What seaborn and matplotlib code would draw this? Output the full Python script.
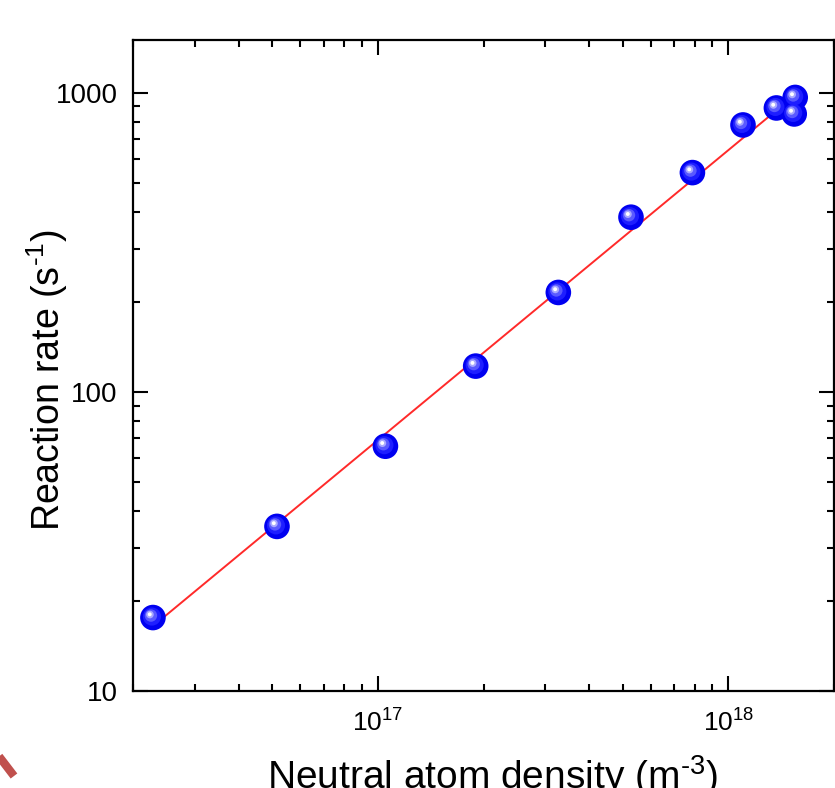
import numpy as np
import pandas as pd
import matplotlib
matplotlib.use("Agg")
import matplotlib.pyplot as plt
import matplotlib.transforms as mtransforms
from matplotlib.lines import Line2D
import seaborn as sns

density = [2.28e16, 5.15e16, 1.05e17, 1.90e17, 3.27e17, 5.27e17, 7.89e17,
           1.10e18, 1.37e18, 1.55e18, 1.54e18]
rate = [17.6, 35.5, 65.8, 121.9, 214.9, 383.5, 540.6, 780.0, 889.0, 964.0, 849.0]

x_ticks = [1e17, 1e18]
x_ticklabels = ["10$^{17}$", "10$^{18}$"]
y_ticks = [10, 100, 1000]
y_ticklabels = ["10", "100", "1000"]

df = pd.DataFrame({"density": density, "rate": rate})

# Fit im log-log Raum
k, d = np.polyfit(np.log10(df["density"]), np.log10(df["rate"]), 1)
fit = pd.DataFrame({"density": [df["density"].min(), df["density"].max()]})
fit["rate"] = 10 ** (k * np.log10(fit["density"]) + d)

#%% Grafik
sns.set_style("ticks")
plt.rcParams["font.family"] = ["Liberation Sans", "DejaVu Sans"]
plt.rcParams["mathtext.fontset"] = "custom"
plt.rcParams["mathtext.rm"] = "Liberation Sans"
plt.rcParams["mathtext.it"] = "Liberation Sans:italic"
for key in ["text.color", "axes.labelcolor", "xtick.color", "ytick.color", "axes.edgecolor"]:
    plt.rcParams[key] = "black"

fig = plt.figure(figsize=(8.35, 7.88), dpi=100)
ax = fig.add_axes([133 / 835, 1 - 691 / 788, 701 / 835, 651 / 788])

sns.lineplot(data=fit, x="density", y="rate", color="#ff2a2a", lw=1.4, ax=ax, zorder=2)

# Kugel-Marker: mehrere Schichten mit Versatz fuer den Glanzpunkt
layers = [(340, "#0000f0", 0.0), (170, "#1e1eff", -1.0), (80, "#5a5aff", -2.0),
          (30, "#a8a8ff", -3.0), (8, "#ffffff", -3.2)]
for size, col, off in layers:
    sns.scatterplot(data=df, x="density", y="rate", s=size, color=col,
                    edgecolor="none", linewidth=0, ax=ax, zorder=3, legend=False)
    coll = ax.collections[-1]
    shift = mtransforms.ScaledTranslation(off / 100, -off / 100, fig.dpi_scale_trans)
    coll.set_offset_transform(ax.transData + shift)

ax.set_xscale("log")
ax.set_yscale("log")
ax.set_xlim(2e16, 2e18)
ax.set_ylim(10, 1500)
ax.set_xticks(x_ticks)
ax.set_xticklabels(x_ticklabels, fontsize=19)
ax.set_yticks(y_ticks)
ax.set_yticklabels(y_ticklabels, fontsize=20)
ax.yaxis.set_minor_formatter(matplotlib.ticker.NullFormatter())
ax.xaxis.set_minor_formatter(matplotlib.ticker.NullFormatter())

ax.tick_params(which="both", direction="in", top=True, right=True, width=1.5, color="black")
ax.tick_params(which="major", length=11)
ax.tick_params(which="minor", length=5)
ax.tick_params(axis="y", pad=11)
ax.tick_params(axis="x", pad=13)
for sp in ax.spines.values():
    sp.set_linewidth(1.6)
    sp.set_color("black")

ax.set_xlabel(r"Neutral atom density (m$^{\text{-}3}$)", fontsize=28)
ax.set_ylabel(r"Reaction rate (s$^{\text{-}1}$)", fontsize=27)
ax.xaxis.set_label_coords(0.512, -0.096)
ax.yaxis.set_label_coords(-0.090, 0.478)

# roter Strich unten links (Bildrest)
fig.add_artist(Line2D([-12 / 835, 14 / 835], [1 - 742 / 788, 1 - 776 / 788],
                      transform=fig.transFigure, lw=6, color="#c0504d", solid_capstyle="butt"))

fig.savefig("out.png", dpi=100)
